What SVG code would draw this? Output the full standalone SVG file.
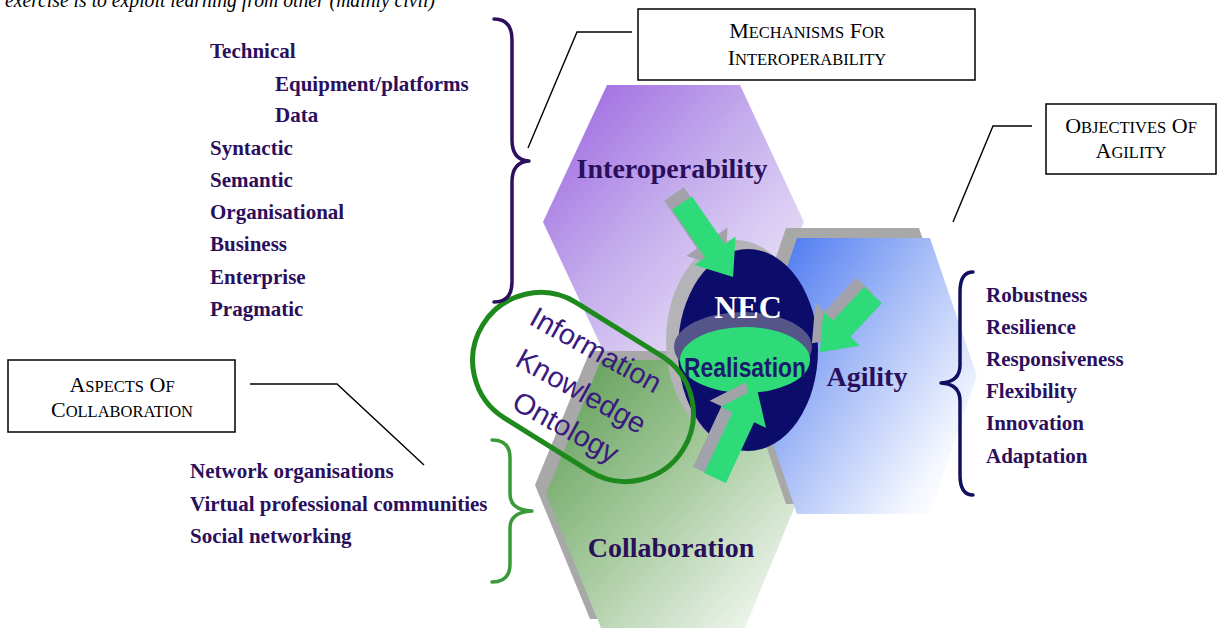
<svg xmlns="http://www.w3.org/2000/svg" width="1218" height="631" viewBox="0 0 1218 631">
<defs>
<linearGradient id="gPurple" x1="0" y1="0" x2="1" y2="1">
<stop offset="0" stop-color="#9a5fe0"/>
<stop offset="0.45" stop-color="#c4adec"/>
<stop offset="1" stop-color="#f8f6fc"/>
</linearGradient>
<linearGradient id="gBlue" x1="0" y1="0" x2="1" y2="0.8">
<stop offset="0" stop-color="#3a6cf0"/>
<stop offset="0.5" stop-color="#a6bcf7"/>
<stop offset="0.9" stop-color="#f4f7ff"/>
<stop offset="1" stop-color="#ffffff"/>
</linearGradient>
<linearGradient id="gGreen" x1="0" y1="0" x2="1" y2="1">
<stop offset="0" stop-color="#5a9a50"/>
<stop offset="0.5" stop-color="#a9cca1"/>
<stop offset="1" stop-color="#ffffff"/>
</linearGradient>
</defs>
<style>
.serifb{font-family:"Liberation Serif","Times New Roman",serif;font-weight:bold}
.list{font-family:"Liberation Serif","Times New Roman",serif;font-weight:bold;font-size:21px;fill:#2b0f5c}
.hexlabel{font-family:"Liberation Serif","Times New Roman",serif;font-weight:bold;font-size:28px;fill:#2a0f5a;text-anchor:middle}
.box{fill:#ffffff;stroke:#000000;stroke-width:1.5}
.boxtext{font-family:"Liberation Serif","Times New Roman",serif;font-size:22px;fill:#000000;text-anchor:middle}
.sc{font-size:16.5px}
.leader{fill:none;stroke:#000000;stroke-width:1.4}
.shadow{fill:#a8a8a8}
.arrow{fill:#2edb78}
.arrowsh{fill:#a2a2aa}
.info{font-family:"Liberation Sans",Arial,sans-serif;font-size:29px;fill:#3a1a7e;text-anchor:middle}
.brace{fill:none;stroke-width:3.5;stroke-linecap:round;stroke-linejoin:round}
</style>

<text x="5" y="7" font-family="Liberation Serif, Times New Roman, serif" font-style="italic" font-size="21" fill="#000" textLength="430" lengthAdjust="spacingAndGlyphs">exercise is to exploit learning from other (mainly civil)</text>

<g id="node-interoperability">
<polygon points="607,85 740,85 804,222 740,359 607,359 543,222" fill="url(#gPurple)"/>
<text class="hexlabel" x="672" y="178">Interoperability</text>
</g>

<g id="node-collaboration">
<polygon class="shadow" points="590,351 734,351 789,485 734,619 590,619 535,485"/>
<polygon points="601,360 745,360 800,494 745,628 601,628 546,494" fill="url(#gGreen)"/>
<text class="hexlabel" x="671" y="557">Collaboration</text>
</g>

<g id="node-agility">
<polygon class="shadow" points="786,228 919,228 966,366 919,504 786,504 739,366"/>
<polygon points="797,238 930,238 977,376 930,514 797,514 750,376" fill="url(#gBlue)"/>
<text class="hexlabel" x="867" y="386">Agility</text>
</g>

<g id="node-nec">
<ellipse cx="736" cy="341" rx="70" ry="101" fill="#b4b4b8"/>
<ellipse cx="748" cy="350" rx="70" ry="101" fill="#0c0c6a"/>
<ellipse cx="743" cy="347" rx="69" ry="35" fill="#55558a"/>
<ellipse cx="745" cy="360" rx="65" ry="33" fill="#2edb78"/>
<text x="748" y="318" class="serifb" font-size="32" fill="#ffffff" text-anchor="middle">NEC</text>
<text x="745" y="377" font-family="Liberation Sans, Arial, sans-serif" font-weight="bold" font-size="28" fill="#1a1a6e" text-anchor="middle" textLength="122" lengthAdjust="spacingAndGlyphs">Realisation</text>
</g>

<g id="node-info">
<rect x="-118" y="-68" width="236" height="136" rx="68" ry="68" transform="translate(583,387) rotate(32)" fill="none" stroke="#1e8a1e" stroke-width="5"/>
<g transform="translate(596,350) rotate(29)">
<text class="info" x="0" y="10">Information</text>
<text class="info" x="7" y="53">Knowledge</text>
<text class="info" x="11" y="92">Ontology</text>
</g>
</g>

<g id="connectors">
<g id="arrow-top">
<polygon class="arrowsh" transform="translate(-8,-9) translate(682,203) rotate(55.4)" points="0,-12 58,-12 58,-25 90,0 58,25 58,12 0,12"/>
<polygon class="arrow" transform="translate(682,203) rotate(55.4)" points="0,-12 58,-12 58,-25 90,0 58,25 58,12 0,12"/>
</g>
<g id="arrow-right">
<polygon class="arrowsh" transform="translate(-8,-9) translate(873,295) rotate(132.9)" points="0,-12 46,-12 46,-25 78,0 46,25 46,12 0,12"/>
<polygon class="arrow" transform="translate(873,295) rotate(132.9)" points="0,-12 46,-12 46,-25 78,0 46,25 46,12 0,12"/>
</g>
<g id="arrow-bottom">
<polygon class="arrowsh" transform="translate(-11,-6) translate(715,478) rotate(-65)" points="0,-12 67,-12 67,-25 99,0 67,25 67,12 0,12"/>
<polygon class="arrow" transform="translate(715,478) rotate(-65)" points="0,-12 67,-12 67,-25 99,0 67,25 67,12 0,12"/>
</g>
<path class="leader" d="M632,32 L577,32 L528,148"/>
<path class="leader" d="M1032,126 L993,126 L953,222"/>
<path class="leader" d="M250,384 L337,384 L424,465"/>
</g>

<g id="braces">
<path class="brace" stroke="#2d0f5e" d="M494,19 Q512,19 512,40 L512,140 Q512,160 529,161 Q512,162 512,182 L512,282 Q512,302 494,302"/>
<path class="brace" stroke="#3a9a3a" stroke-width="3" d="M492,440 Q510,440 510,458 L510,494 Q510,510 532,511 Q510,512 510,528 L510,564 Q510,582 492,582"/>
<path class="brace" stroke="#101060" d="M973,272 Q960,272 960,292 L960,365 Q960,382 941,383 Q960,384 960,401 L960,475 Q960,495 973,495"/>
</g>

<g id="list-interoperability">
<text class="list" x="210" y="58">Technical</text>
<text class="list" x="275" y="91">Equipment/platforms</text>
<text class="list" x="275" y="122">Data</text>
<text class="list" x="210" y="155">Syntactic</text>
<text class="list" x="210" y="187">Semantic</text>
<text class="list" x="210" y="219">Organisational</text>
<text class="list" x="210" y="251">Business</text>
<text class="list" x="210" y="284">Enterprise</text>
<text class="list" x="210" y="316">Pragmatic</text>
</g>

<g id="list-agility">
<text class="list" x="986" y="302">Robustness</text>
<text class="list" x="986" y="334">Resilience</text>
<text class="list" x="986" y="366">Responsiveness</text>
<text class="list" x="986" y="398">Flexibility</text>
<text class="list" x="986" y="430">Innovation</text>
<text class="list" x="986" y="463">Adaptation</text>
</g>

<g id="list-collaboration">
<text class="list" x="190" y="478">Network organisations</text>
<text class="list" x="190" y="511">Virtual professional communities</text>
<text class="list" x="190" y="543">Social networking</text>
</g>

<g id="callout-mechanisms">
<rect class="box" x="638" y="9" width="337" height="71"/>
<text class="boxtext" x="807" y="38">M<tspan class="sc">ECHANISMS</tspan> F<tspan class="sc">OR</tspan></text>
<text class="boxtext" x="807" y="65">I<tspan class="sc">NTEROPERABILITY</tspan></text>
</g>

<g id="callout-objectives">
<rect class="box" x="1046" y="104" width="170" height="70"/>
<text class="boxtext" x="1131" y="133">O<tspan class="sc">BJECTIVES</tspan> O<tspan class="sc">F</tspan></text>
<text class="boxtext" x="1131" y="158">A<tspan class="sc">GILITY</tspan></text>
</g>

<g id="callout-aspects">
<rect class="box" x="8" y="360" width="227" height="72"/>
<text class="boxtext" x="122" y="392">A<tspan class="sc">SPECTS</tspan> O<tspan class="sc">F</tspan></text>
<text class="boxtext" x="122" y="417">C<tspan class="sc">OLLABORATION</tspan></text>
</g>
</svg>
